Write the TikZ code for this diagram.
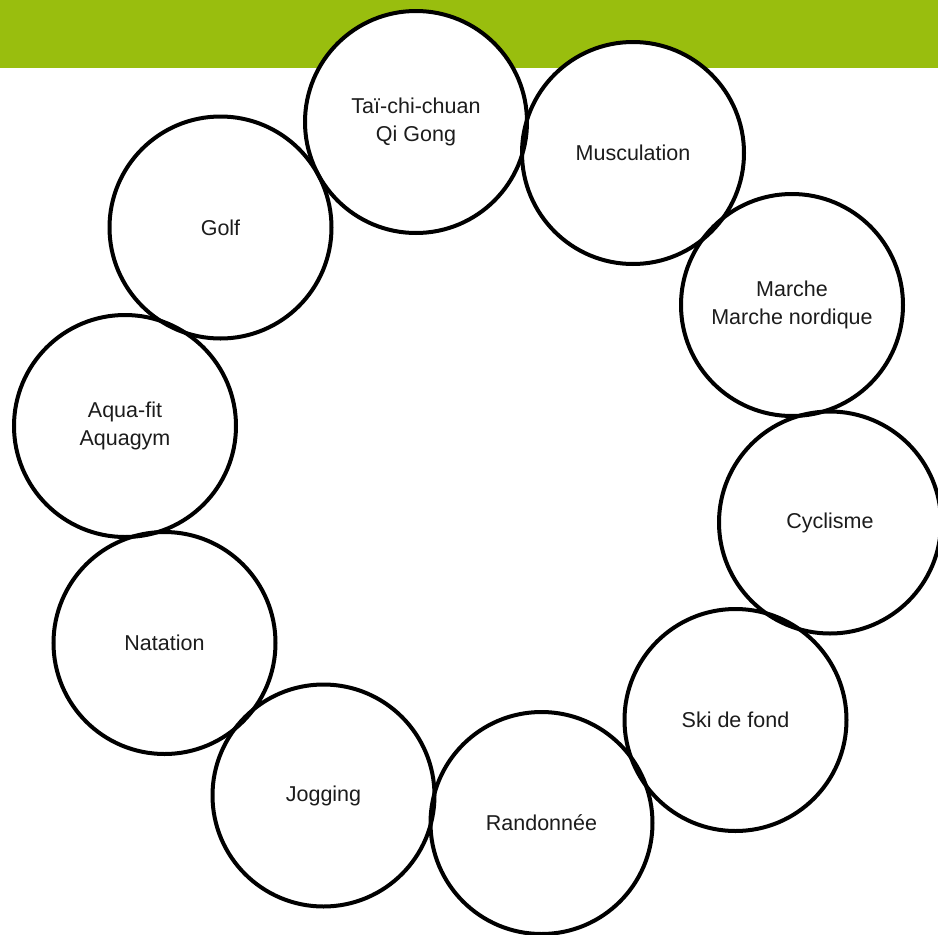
\documentclass[tikz,border=0pt]{standalone}
\usepackage{fontspec}
\setmainfont{Liberation Sans}
\usepackage{xcolor}
\usepackage{tikz}

\definecolor{vertbande}{RGB}{153,190,14}
\definecolor{texte}{RGB}{28,28,28}

\tikzset{
sport/.style={circle, fill=white, minimum size=222pt, inner sep=0pt, align=center,
  text=texte, font=\fontsize{21.5}{27.5}\selectfont},
contour/.style={line width=4pt, black}
}

\begin{document}
\begin{tikzpicture}[x=1pt,y=-1pt]
\useasboundingbox (0,0) rectangle (938,935);
\fill[vertbande] (0,0) rectangle (938,68);

\node(Tai)      [sport] at (416,122)        {Taï-chi-chuan\\Qi Gong};
\node(Musc)     [sport] at (633,153)        {Musculation};
\node(Marche)   [sport] at (792,305)        {Marche\\Marche nordique};
\node(Cycl)     [sport] at (830,522.5)      {Cyclisme};
\node(Ski)      [sport] at (735.5,720)      {Ski de fond};
\node(Rando)    [sport] at (541.5,823)      {Randonnée};
\node(Jog)      [sport] at (323.5,795.5)    {Jogging};
\node(Nat)      [sport] at (164.5,643)      {Natation};
\node(Aqua)     [sport] at (125,426)        {Aqua-fit\\Aquagym};
\node(Golf)     [sport] at (220.5,227.5)    {Golf};

\foreach \n in {Tai,Musc,Marche,Cycl,Ski,Rando,Jog,Nat,Aqua,Golf} {
\draw[contour] (\n.center) circle (111pt);
}
\end{tikzpicture}
\end{document}
